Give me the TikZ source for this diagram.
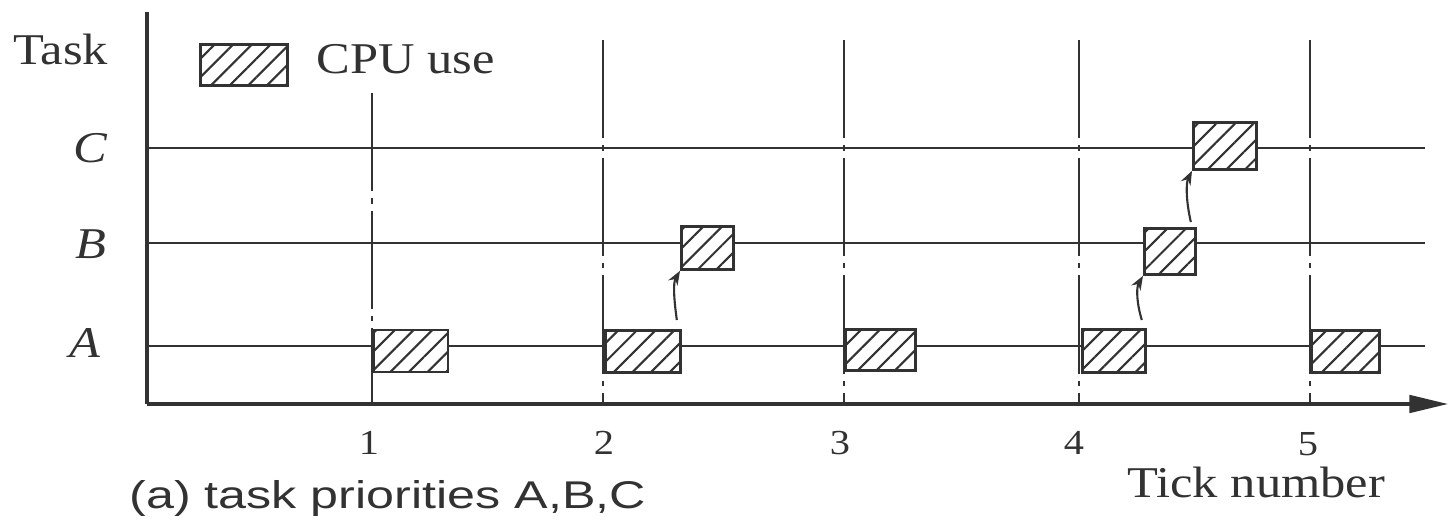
\documentclass[tikz,border=0pt]{standalone}
\usepackage{fontspec}
\setmainfont{Liberation Serif}[FakeStretch=1.15]
\newfontfamily\capf{Liberation Sans}[FakeStretch=1.3]
\usetikzlibrary{arrows.meta,patterns.meta,calc}
\definecolor{ink}{RGB}{50,50,50}
\tikzset{
  axis/.style={line width=1.8pt, draw=ink},
  rowline/.style={line width=1.5pt, draw=ink},
  tickline/.style={line width=1.5pt, draw=ink, dash pattern=on 56pt off 4pt on 3pt off 4pt},
  cpu/.style 2 args={draw=ink, line width=1.6pt, anchor=north west, inner sep=0pt,
     minimum width=#1*0.02cm, minimum height=#2*0.02cm,
     preaction={fill=white},
     pattern={Lines[angle=45,distance=7.5pt,line width=1.2pt]}, pattern color=ink},
  wake/.style={draw=ink, line width=1.2pt, -{Stealth[length=8pt,width=6pt]}},
  lbl/.style={text=ink, inner sep=0pt, font=\fontsize{25}{30}\selectfont},
  num/.style={text=ink, inner sep=0pt, anchor=base, font=\fontsize{20}{24}\selectfont},
}
\begin{document}
\begin{tikzpicture}[x=0.02cm,y=-0.02cm]
\useasboundingbox (0,0) rectangle (1449,520);
% axes
\coordinate (O) at (147,404);
\coordinate (Ytop) at (147,12);
\coordinate (Xend) at (1448,404);
% rows
\coordinate (Cs) at (147,148); \coordinate (Ce) at (1425,148);
\coordinate (Bs) at (147,243); \coordinate (Be) at (1425,243);
\coordinate (As) at (147,346); \coordinate (Ae) at (1425,346);
\draw[rowline] (Cs) -- (Ce);
\draw[rowline] (Bs) -- (Be);
\draw[rowline] (As) -- (Ae);
% tick lines
\coordinate (t1a) at (372,93);  \coordinate (t1b) at (372,404);
\coordinate (t2a) at (603,40);  \coordinate (t2b) at (603,404);
\coordinate (t3a) at (844,40);  \coordinate (t3b) at (844,404);
\coordinate (t4a) at (1079,40); \coordinate (t4b) at (1079,404);
\coordinate (t5a) at (1310,40); \coordinate (t5b) at (1310,404);
\foreach \i in {1,...,5} \draw[tickline] (t\i a) -- (t\i b);
\draw[axis] (Ytop) -- (O);
\draw[axis, -{Triangle[length=22pt,width=10pt]}] (O) -- (Xend);
% CPU boxes
\node[cpu={74}{42}] (A1) at (373,329) {};
\node[cpu={75}{42}] (A2) at (604,329) {};
\node[cpu={70}{41}] (A3) at (844,328) {};
\node[cpu={63}{43}] (A4) at (1081,328) {};
\node[cpu={68}{42}] (A5) at (1310,329) {};
\node[cpu={52}{43}] (B1) at (680,225) {};
\node[cpu={51}{46}] (B2) at (1143,227) {};
\node[cpu={63}{47}] (C1) at (1192,121) {};
\node[cpu={87}{41}] (L) at (199,43) {};
% wake-up arrows
\draw[wake] ($(A2.north east)+(-5,-9)$) .. controls +(-3,-22) and +(-7,12) .. (B1.south west);
\draw[wake] ($(A4.north east)+(-5,-8)$) .. controls +(-5,-16) and +(-7,12) .. (B2.south west);
\draw[wake] ($(B2.north east)+(-6,-5)$) .. controls +(-5,-22) and +(-6,12) .. (C1.south west);
% labels
\node[lbl, anchor=base west] (task) at (13,65) {Task};
\node[lbl, anchor=base west] (cpuuse) at (316,74) {CPU use};
\node[lbl, anchor=base east] (lc) at (108,163) {\itshape C};
\node[lbl, anchor=base east] (lb) at (107,258) {\itshape B};
\node[lbl, anchor=base east] (la) at (101,357) {\itshape A};
\node[num] (n1) at (369,454) {1};
\node[num] (n2) at (604,454) {2};
\node[num] (n3) at (840,454) {3};
\node[num] (n4) at (1074,454) {4};
\node[num] (n5) at (1308,455) {5};
\node[lbl, anchor=base west] (tn) at (1127,497) {Tick number};
\node[text=ink, inner sep=0pt, anchor=base west, font=\capf\fontsize{22}{26}\selectfont] (cap) at (129,508) {(a) task priorities A,B,C};
\end{tikzpicture}
\end{document}
